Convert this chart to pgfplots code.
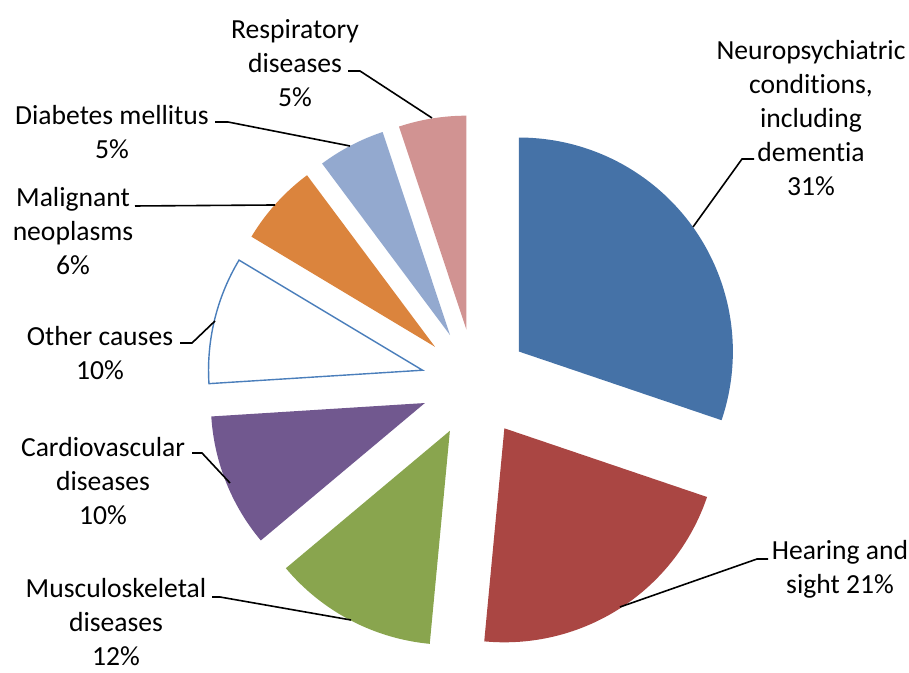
\documentclass[border=0pt]{standalone}
\usepackage{pgfplots}
\pgfplotsset{compat=1.18}
\usepackage{fontspec}
\setmainfont{Carlito}[Ligatures=NoCommon]
\definecolor{cNeuro}{HTML}{4572A7}
\definecolor{cHear}{HTML}{AA4643}
\definecolor{cMusc}{HTML}{89A54E}
\definecolor{cCard}{HTML}{71588F}
\definecolor{cOther}{HTML}{4A7EBB}
\definecolor{cMal}{HTML}{DB843D}
\definecolor{cDiab}{HTML}{93A9CF}
\definecolor{cResp}{HTML}{D19392}
% slice: start share (%), end share (%), style ; shares
\newcommand{\slice}[3]{%
  \pgfmathsetmacro\ta{90-3.6*#2}%
  \pgfmathsetmacro\tb{90-3.6*#1}%
  \pgfmathsetmacro\ox{54*cos((\ta+\tb)/2)}%
  \pgfmathsetmacro\oy{54*sin((\ta+\tb)/2)}%
  \edef\doslice{\noexpand\addplot[#3, domain=\ta:\tb, samples=90]
    ({\ox+214*cos(x)},{\oy+214*sin(x)}) -- (axis cs:\ox,\oy) -- cycle;}%
  \doslice}
\begin{document}
\begin{tikzpicture}
\begin{axis}[
  width=454.5pt, height=336.5pt, scale only axis,
  hide axis, clip=false,
  xmin=-475, xmax=434, ymin=-290, ymax=383,
]
\path (axis cs:-475,-290) rectangle (axis cs:434,383);
% shares: 30.2, 21.3, 12.4, 10.1, 9.6, 6.2, 5.1, 5.1 (cumulative below)
\slice{0}{30.2}{fill=cNeuro, draw=none}
\slice{30.2}{51.5}{fill=cHear, draw=none}
\slice{51.5}{63.9}{fill=cMusc, draw=none}
\slice{63.9}{74.0}{fill=cCard, draw=none}
\slice{74.0}{83.6}{fill=white, draw=cOther, line width=0.7pt}
\slice{83.6}{89.8}{fill=cMal, draw=none}
\slice{89.8}{94.9}{fill=cDiab, draw=none}
\slice{94.9}{100}{fill=cResp, draw=none}
% leader lines
\draw[black, line width=0.8pt] (axis cs:-127,312) -- (axis cs:-115,312) -- (axis cs:-43,265);
\draw[black, line width=0.8pt] (axis cs:-260,261) -- (axis cs:-247,261) -- (axis cs:-125,237);
\draw[black, line width=0.8pt] (axis cs:-340,177) -- (axis cs:-200,178);
\draw[black, line width=0.8pt] (axis cs:-295,40) -- (axis cs:-283,40) -- (axis cs:-260,62);
\draw[black, line width=0.8pt] (axis cs:-283,-70) -- (axis cs:-273,-70) -- (axis cs:-245,-100);
\draw[black, line width=0.8pt] (axis cs:-263,-214) -- (axis cs:-255,-214) -- (axis cs:-124,-237);
\draw[black, line width=0.8pt] (axis cs:279,224) -- (axis cs:267,224) -- (axis cs:218,156);
\draw[black, line width=0.8pt] (axis cs:293,-176) -- (axis cs:282,-176) -- (axis cs:145,-224);
% labels
\begin{scope}[every node/.style={align=center, inner sep=0pt, font=\fontsize{13.8}{17}\selectfont}]
\node at (axis cs:-180,320) {Respiratory\\diseases\\5\%};
\node at (axis cs:-363,251) {Diabetes mellitus\\5\%};
\node at (axis cs:-402,152) {Malignant\\neoplasms\\6\%};
\node at (axis cs:-375,30) {Other causes\\10\%};
\node at (axis cs:-372,-98) {Cardiovascular\\diseases\\10\%};
\node at (axis cs:-359,-239) {Musculoskeletal\\diseases\\12\%};
\node at (axis cs:336,265) {Neuropsychiatric\\conditions,\\including\\dementia\\31\%};
\node at (axis cs:365,-186) {Hearing and\\sight 21\%};
\end{scope}
\end{axis}
\end{tikzpicture}
\end{document}
